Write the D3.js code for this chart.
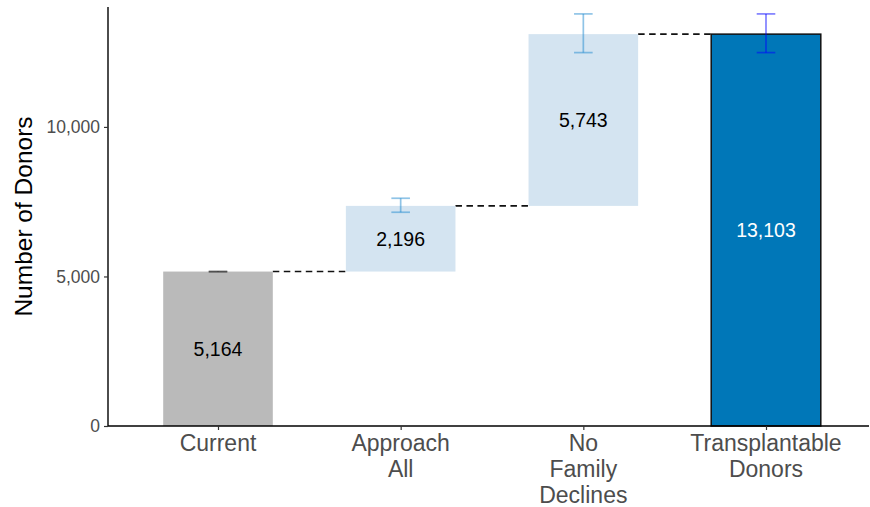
<!DOCTYPE html>
<html>
<head>
<meta charset="utf-8">
<script src="https://cdn.jsdelivr.net/npm/d3@7"></script>
<style>
  html, body { margin: 0; padding: 0; background: #fff; }
  svg { display: block; font-family: "Liberation Sans", Arial, Helvetica, sans-serif; }
</style>
</head>
<body>
<svg id="chart" width="870" height="507"></svg>
<script>
// Waterfall steps: each step adds to the running donor total
const categories = ["Current", "Approach All", "No Family Declines", "Transplantable Donors"];
const categoryLines = [["Current"], ["Approach", "All"], ["No", "Family", "Declines"], ["Transplantable", "Donors"]];
const increments = [5164, 2196, 5743, 13103];
const isTotal = [false, false, false, true];
const errLow = [5155, 7147, 12485, 12485];
const errHigh = [5172, 7615, 13779, 13779];
const yTicks = [0, 5000, 10000];

const fills = ["#bababa", "#d4e4f1", "#d4e4f1", "#0077b8"];
const errColors = ["#222222", "#1f8ad0", "#1f8ad0", "#0000ff"];
const labelColors = ["#000", "#000", "#000", "#fff"];

// Build bar extents (start/end) from the increments
let running = 0;
const bars = categories.map((c, i) => {
  let start, end;
  if (isTotal[i]) { start = 0; end = increments[i]; running = end; }
  else { start = running; end = running + increments[i]; running = end; }
  return { cat: c, lines: categoryLines[i], value: increments[i], start, end,
           lo: errLow[i], hi: errHigh[i], fill: fills[i], err: errColors[i],
           labelColor: labelColors[i], total: isTotal[i] };
});

const svg = d3.select("#chart");
const plotLeft = 108, plotRight = 869, plotTop = 7, plotBottom = 426;

const x = d3.scalePoint().domain(categories).range([108.4, 875.6]).padding(0.6);
const bandW = x.step() * 0.6;
const y = d3.scaleLinear().domain([0, 14010]).range([plotBottom, plotTop]);

// Dashed connectors between consecutive bars
const conn = svg.append("g");
for (let i = 0; i < bars.length - 1; i++) {
  const yy = y(bars[i].end);
  conn.append("line")
    .attr("x1", x(bars[i].cat) + bandW / 2).attr("x2", x(bars[i + 1].cat) - bandW / 2)
    .attr("y1", yy).attr("y2", yy)
    .attr("stroke", "#111").attr("stroke-width", 1.6)
    .attr("stroke-dasharray", "6.5,4.5");
}

// Bars
svg.append("g").selectAll("rect").data(bars).join("rect")
  .attr("x", d => x(d.cat) - bandW / 2)
  .attr("width", bandW)
  .attr("y", d => y(d.end))
  .attr("height", d => y(d.start) - y(d.end))
  .attr("fill", d => d.fill)
  .attr("stroke", d => d.total ? "#111" : "none")
  .attr("stroke-width", 1.5);

// Value labels centred in each bar
svg.append("g").selectAll("text").data(bars).join("text")
  .attr("x", d => x(d.cat))
  .attr("y", d => (y(d.start) + y(d.end)) / 2)
  .attr("dy", "0.36em")
  .attr("text-anchor", "middle")
  .attr("font-size", 19.5)
  .attr("fill", d => d.labelColor)
  .text(d => d3.format(",")(d.value));

// Error bars
const eb = svg.append("g").selectAll("g").data(bars).join("g")
  .attr("stroke", d => d.err).attr("stroke-opacity", 0.5).attr("stroke-width", 1.7);
const capW = 9.3;
eb.append("line").attr("x1", d => x(d.cat)).attr("x2", d => x(d.cat))
  .attr("y1", d => y(d.lo)).attr("y2", d => y(d.hi));
eb.append("line").attr("x1", d => x(d.cat) - capW).attr("x2", d => x(d.cat) + capW)
  .attr("y1", d => y(d.lo)).attr("y2", d => y(d.lo));
eb.append("line").attr("x1", d => x(d.cat) - capW).attr("x2", d => x(d.cat) + capW)
  .attr("y1", d => y(d.hi)).attr("y2", d => y(d.hi));

// Y axis
const yAxis = svg.append("g").attr("transform", `translate(${plotLeft},0)`)
  .call(d3.axisLeft(y).tickValues(yTicks).tickFormat(d3.format(",")).tickSizeOuter(0).tickSize(4).tickPadding(4));
yAxis.select(".domain").attr("stroke", "#000").attr("stroke-width", 1.4).attr("d", `M0,${plotTop}V${plotBottom}`);
yAxis.selectAll(".tick line").attr("stroke", "#333").attr("stroke-width", 1.2);
yAxis.selectAll(".tick text").attr("fill", "#4d4d4d").attr("font-size", 17.5).attr("font-family", "Liberation Sans, Arial, sans-serif");

// X axis
const xAxis = svg.append("g").attr("transform", `translate(0,${plotBottom})`)
  .call(d3.axisBottom(x).tickSizeOuter(0).tickSize(4).tickFormat(""));
xAxis.select(".domain").attr("stroke", "#000").attr("stroke-width", 1.4).attr("d", `M${plotLeft},0H${plotRight}`);
xAxis.selectAll(".tick line").attr("stroke", "#333").attr("stroke-width", 1.2);

// Multi-line category labels
const xl = svg.append("g").selectAll("text").data(bars).join("text")
  .attr("text-anchor", "middle")
  .attr("font-size", 23)
  .attr("fill", "#4d4d4d");
xl.each(function(d) {
  const t = d3.select(this);
  d.lines.forEach((ln, k) => {
    t.append("tspan").attr("x", x(d.cat)).attr("y", 451 + k * 26).text(ln);
  });
});

// Y axis title
svg.append("text")
  .attr("transform", `translate(32,${(plotTop + plotBottom) / 2}) rotate(-90)`)
  .attr("text-anchor", "middle")
  .attr("font-size", 24.5)
  .attr("fill", "#000")
  .text("Number of Donors");
</script>
</body>
</html>
